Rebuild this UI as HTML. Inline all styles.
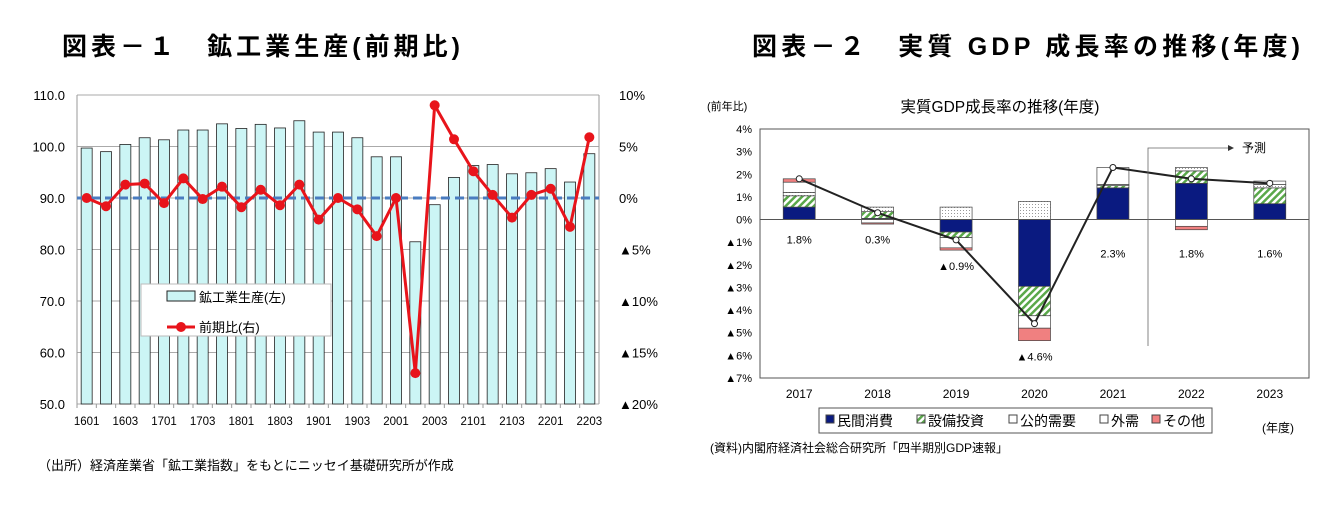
<!DOCTYPE html>
<html><head><meta charset="utf-8">
<style>
body{margin:0;background:#fff;width:1343px;height:506px;overflow:hidden;font-family:"Liberation Sans","Noto Sans CJK JP",sans-serif;}
svg{position:absolute;left:0;top:0}
text{font-family:"Liberation Sans","Noto Sans CJK JP",sans-serif;}
</style></head>
<body>
<svg id="svg" width="1343" height="506">
<defs>
<pattern id="hatch" width="5" height="5" patternUnits="userSpaceOnUse" patternTransform="rotate(45)">
<rect width="5" height="5" fill="#fff"/><rect width="2.5" height="5" fill="#5aa84a"/></pattern>
<pattern id="dots" width="3" height="3" patternUnits="userSpaceOnUse">
<rect width="3" height="3" fill="#fff"/><rect width="1" height="1" fill="#999"/></pattern>
</defs>
<text x="62" y="55" font-size="25" font-weight="bold" textLength="398" lengthAdjust="spacing">図表－１　鉱工業生産(前期比)</text>
<text x="752" y="55" font-size="25" font-weight="bold" textLength="548" lengthAdjust="spacing">図表－２　実質 GDP 成長率の推移(年度)</text>
<g id="left"></g>
<g id="right"></g>
<text x="38" y="470" font-size="13">（出所）経済産業省「鉱工業指数」をもとにニッセイ基礎研究所が作成</text>
<text x="710" y="452" font-size="12">(資料)内閣府経済社会総合研究所「四半期別GDP速報」</text>
</svg>
<script>
const qCats=['1601','1602','1603','1604','1701','1702','1703','1704','1801','1802','1803','1804','1901','1902','1903','1904','2001','2002','2003','2004','2101','2102','2103','2104','2201','2202','2203'];
const prodValues=[99.7,99.0,100.4,101.7,101.3,103.2,103.2,104.4,103.5,104.3,103.6,105.0,102.8,102.8,101.7,98.0,98.0,81.5,88.7,94.0,96.3,96.5,94.7,94.9,95.7,93.1,98.6];
const qoqValues=[0,-0.8,1.3,1.4,-0.5,1.9,-0.1,1.1,-0.9,0.8,-0.7,1.3,-2.1,0,-1.1,-3.7,0,-17.0,9.0,5.7,2.6,0.3,-1.9,0.3,0.9,-2.8,5.9];
const leftTicks=[50,60,70,80,90,100,110];
const rightTicks=[-20,-15,-10,-5,0,5,10];

const years=['2017','2018','2019','2020','2021','2022','2023'];
const consumption=[0.55,0.05,-0.55,-2.95,1.4,1.6,0.7];
const capex=[0.5,0.3,-0.25,-1.3,0.1,0.55,0.7];
const publicDemand=[0.15,0.2,0.55,0.8,0.05,0.15,0.15];
const externalDemand=[0.45,-0.15,-0.45,-0.55,0.75,-0.3,0.15];
const others=[0.15,-0.05,-0.1,-0.55,0,-0.15,0];
const gdpGrowth=[1.8,0.3,-0.9,-4.6,2.3,1.8,1.6];
const gdpTicks=[-7,-6,-5,-4,-3,-2,-1,0,1,2,3,4];

const NS='http://www.w3.org/2000/svg';
function mk(p,t,a,txt){const e=document.createElementNS(NS,t);for(const k in a)e.setAttribute(k,a[k]);if(txt!==undefined)e.textContent=txt;p.appendChild(e);return e;}
function pct(v){return v<0?'▲'+(-v)+'%':v+'%';}

// LEFT
const L=document.getElementById('left');
const lx0=77,lx1=599,ly0=95,ly1=404;
const yL=v=>ly1-(v-50)/60*(ly1-ly0);
const yR=v=>ly1-(v+20)/30*(ly1-ly0);
const step=(lx1-lx0)/qCats.length;
const xL=i=>lx0+step*(i+0.5);
leftTicks.forEach(t=>{
 const g=mk(L,'line',{x1:lx0,x2:lx1,y1:yL(t),y2:yL(t),stroke:'#aaa','stroke-width':1});
 
 const tx=mk(L,'text',{x:lx0-12,y:yL(t)+5,'font-size':13,'text-anchor':'end'},t.toFixed(1));
 
});
rightTicks.forEach(t=>{
 const tx=mk(L,'text',{x:lx1+20,y:yR(t)+5,'font-size':13},pct(t));
 
});
mk(L,'line',{x1:lx0,x2:lx0,y1:ly0,y2:ly1,stroke:'#999'});
mk(L,'line',{x1:lx1,x2:lx1,y1:ly0,y2:ly1,stroke:'#999'});
prodValues.forEach((v,i)=>{
 const b=mk(L,'rect',{x:xL(i)-5.5,y:yL(v),width:11,height:yL(50)-yL(v),fill:'#ccf5f5',stroke:'#222','stroke-width':0.8});
 
});
qCats.forEach((c,i)=>{if(i%2===0){
 const t=mk(L,'text',{x:xL(i),y:ly1+21,'font-size':11.5,'text-anchor':'middle'},c);
 }
 mk(L,'line',{x1:lx0+step*i,x2:lx0+step*i,y1:ly1,y2:ly1+4,stroke:'#999'});
});
const zl=mk(L,'line',{x1:lx0,x2:lx1,y1:yR(0),y2:yR(0),stroke:'#4a7cc0','stroke-width':3,'stroke-dasharray':'9,5'});

const ln=mk(L,'polyline',{points:qoqValues.map((v,i)=>xL(i)+','+yR(v)).join(' '),fill:'none',stroke:'#e8141b','stroke-width':3});

qoqValues.forEach((v,i)=>{
 const c=mk(L,'circle',{cx:xL(i),cy:yR(v),r:5,fill:'#e8141b'});
 
});
const lg=mk(L,'g',{});

mk(lg,'rect',{x:141,y:284,width:190,height:52,fill:'#fff',stroke:'#bbb'});
mk(lg,'rect',{x:167,y:291,width:28,height:10,fill:'#ccf5f5',stroke:'#222'});
mk(lg,'text',{x:199,y:302,'font-size':13},'鉱工業生産(左)');
mk(lg,'line',{x1:167,x2:195,y1:327,y2:327,stroke:'#e8141b','stroke-width':3});
mk(lg,'circle',{cx:181,cy:327,r:5,fill:'#e8141b'});
mk(lg,'text',{x:199,y:332,'font-size':13},'前期比(右)');

// RIGHT
const R=document.getElementById('right');
const rx0=760,rx1=1309,ry0=129,ry1=378;
const yG=v=>ry0+(4-v)/11*(ry1-ry0);
const xs=(rx1-rx0)/years.length;
const xG=i=>rx0+xs*(i+0.5);
mk(R,'rect',{x:rx0,y:ry0,width:rx1-rx0,height:ry1-ry0,fill:'none',stroke:'#555'});
mk(R,'text',{x:1000,y:112,'font-size':15.5,'text-anchor':'middle'},'実質GDP成長率の推移(年度)');
mk(R,'text',{x:707,y:110,'font-size':11},'(前年比)');
gdpTicks.forEach(t=>{
 const tx=mk(R,'text',{x:752,y:yG(t)+4,'font-size':11,'text-anchor':'end'},pct(t));
 
});
const series=[[consumption,'#0a1a80'],[capex,'url(#hatch)'],[publicDemand,'url(#dots)'],[externalDemand,'#fff'],[others,'#f08080']];
years.forEach((y,i)=>{
 let pos=0,neg=0;
 series.forEach(([arr,fill])=>{
  const v=arr[i];if(!v)return;
  let a,b;
  if(v>0){a=pos;b=pos+v;pos=b;}else{a=neg;b=neg+v;neg=b;}
  const r=mk(R,'rect',{x:xG(i)-16,y:Math.min(yG(a),yG(b)),width:32,height:Math.abs(yG(a)-yG(b)),fill:fill,stroke:'#444','stroke-width':0.7});
  
 });
 const t=mk(R,'text',{x:xG(i),y:ry1+20,'font-size':12,'text-anchor':'middle'},y);
 
 const g=gdpGrowth[i];
 const ly=g<0?yG(neg)+20:yG(0)+(i>=4?38:24);
 const lb=mk(R,'text',{x:xG(i),y:ly,'font-size':11,'text-anchor':'middle'},pct(g));
 
});
mk(R,'line',{x1:rx0,x2:rx1,y1:yG(0),y2:yG(0),stroke:'#555'});
const gl=mk(R,'polyline',{points:gdpGrowth.map((v,i)=>xG(i)+','+yG(v)).join(' '),fill:'none',stroke:'#222','stroke-width':2});

gdpGrowth.forEach((v,i)=>{
 const c=mk(R,'circle',{cx:xG(i),cy:yG(v),r:3,fill:'#fff',stroke:'#222'});
 
});
mk(R,'polyline',{points:'1148,346 1148,148 1228,148',fill:'none',stroke:'#666','stroke-width':0.8});
mk(R,'polygon',{points:'1228,145 1234,148 1228,151',fill:'#333'});
mk(R,'text',{x:1242,y:152,'font-size':12},'予測');
const rl=mk(R,'g',{});

mk(rl,'rect',{x:819,y:408,width:393,height:25,fill:'#fff',stroke:'#555'});
const li=[['#0a1a80','民間消費',826],['url(#hatch)','設備投資',917],['#fff','公的需要',1009],['#fff','外需',1100],['#f08080','その他',1152]];
li.forEach(([f,t,x])=>{mk(rl,'rect',{x:x,y:415,width:8,height:8,fill:f,stroke:'#444'});mk(rl,'text',{x:x+11,y:426,'font-size':14},t);});
mk(R,'text',{x:1262,y:432,'font-size':12},'(年度)');
</script>
</body></html>
